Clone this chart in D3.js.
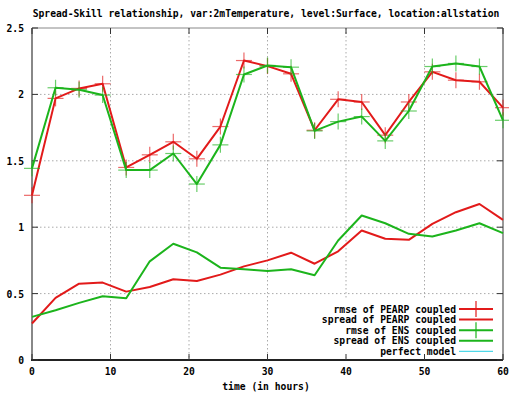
<!DOCTYPE html>
<html>
<head>
<meta charset="utf-8">
<script src="https://cdn.jsdelivr.net/npm/d3@7"></script>
<style>
  html, body { margin: 0; padding: 0; background: #fff; }
  svg text { font-family: "DejaVu Sans Mono", monospace; font-weight: bold; font-size: 9.7px; fill: #000; }
</style>
</head>
<body>
<svg id="chart" width="509" height="393"></svg>
<script>
// Forecast lead times (hours)
const hours = [0, 3, 6, 9, 12, 15, 18, 21, 24, 27, 30, 33, 36, 39, 42, 45, 48, 51, 54, 57, 60];

const rmsePEARP = [1.24, 1.97, 2.045, 2.08, 1.45, 1.545, 1.643, 1.515, 1.758, 2.255, 2.213, 2.155, 1.73, 1.963, 1.943, 1.693, 1.943, 2.17, 2.107, 2.095, 1.90];
const spreadPEARP = [0.275, 0.468, 0.575, 0.583, 0.515, 0.55, 0.608, 0.595, 0.643, 0.705, 0.75, 0.808, 0.725, 0.818, 0.975, 0.913, 0.905, 1.025, 1.113, 1.175, 1.055];
const rmseENS = [1.443, 2.05, 2.035, 1.995, 1.43, 1.43, 1.555, 1.325, 1.62, 2.15, 2.218, 2.205, 1.725, 1.795, 1.833, 1.65, 1.875, 2.21, 2.233, 2.21, 1.805];
const spreadENS = [0.325, 0.375, 0.43, 0.48, 0.465, 0.743, 0.875, 0.81, 0.695, 0.683, 0.67, 0.683, 0.638, 0.9, 1.088, 1.03, 0.95, 0.93, 0.975, 1.03, 0.955];

const xTicks = [0, 10, 20, 30, 40, 50, 60];
const yTicks = [0, 0.5, 1, 1.5, 2, 2.5];
const xTickLabels = ["0", "10", "20", "30", "40", "50", "60"];
const yTickLabels = ["0", "0.5", "1", "1.5", "2", "2.5"];

const titleText = "Spread-Skill relationship, var:2mTemperature, level:Surface, location:allstation";
const xLabel = "time (in hours)";

const series = [
  { name: "rmse of PEARP coupled",   values: rmsePEARP,   color: "#e21a1a", marks: true },
  { name: "spread of PEARP coupled", values: spreadPEARP, color: "#e21a1a", marks: false },
  { name: "rmse of ENS coupled",     values: rmseENS,     color: "#1cb41c", marks: true },
  { name: "spread of ENS coupled",   values: spreadENS,   color: "#1cb41c", marks: false },
  { name: "perfect model",           values: null,        color: "#4fd8e8", marks: false }
];

const svg = d3.select("#chart");
const L = 32, R = 503, T = 28, B = 360;

const x = d3.scaleLinear().domain([0, 60]).range([L, R]);
const y = d3.scaleLinear().domain([0, 2.5]).range([B, T]);

// Grid
const grid = svg.append("g");
grid.selectAll("line.gx").data(xTicks.slice(1, -1)).enter().append("line")
  .attr("x1", d => x(d)).attr("x2", d => x(d)).attr("y1", T).attr("y2", B)
  .attr("stroke", "#aaa").attr("stroke-width", 1).attr("stroke-dasharray", "1.5,2.5");
grid.selectAll("line.gy").data(yTicks.slice(1, -1)).enter().append("line")
  .attr("x1", L).attr("x2", R).attr("y1", d => y(d)).attr("y2", d => y(d))
  .attr("stroke", "#aaa").attr("stroke-width", 1).attr("stroke-dasharray", "1.5,2.5");

// Legend area clears the grid behind it
svg.append("rect").attr("x", 318).attr("y", 299).attr("width", 183).attr("height", 58).attr("fill", "#fff");

// Frame
svg.append("line").attr("x1", L).attr("x2", R).attr("y1", T).attr("y2", T).attr("stroke", "#888").attr("stroke-width", 1);
svg.append("line").attr("x1", R).attr("x2", R).attr("y1", T).attr("y2", B).attr("stroke", "#777").attr("stroke-width", 1.5);
svg.append("line").attr("x1", L).attr("x2", L).attr("y1", T).attr("y2", B).attr("stroke", "#888").attr("stroke-width", 2);
svg.append("line").attr("x1", L - 1).attr("x2", R).attr("y1", B).attr("y2", B).attr("stroke", "#222").attr("stroke-width", 2);

// Inward ticks on all sides
const tk = svg.append("g").attr("stroke", "#333").attr("stroke-width", 1);
xTicks.forEach(t => {
  tk.append("line").attr("x1", x(t)).attr("x2", x(t)).attr("y1", B).attr("y2", B - 6);
  tk.append("line").attr("x1", x(t)).attr("x2", x(t)).attr("y1", T).attr("y2", T + 6);
});
yTicks.forEach(t => {
  tk.append("line").attr("x1", L).attr("x2", L + 6).attr("y1", y(t)).attr("y2", y(t));
  tk.append("line").attr("x1", R).attr("x2", R - 6).attr("y1", y(t)).attr("y2", y(t));
});

// Tick labels
svg.append("g").selectAll("text").data(xTicks).enter().append("text")
  .attr("x", d => x(d)).attr("y", B + 15).attr("text-anchor", "middle")
  .text((d, i) => xTickLabels[i]);
svg.append("g").selectAll("text").data(yTicks).enter().append("text")
  .attr("x", L - 8).attr("y", d => y(d) + 4).attr("text-anchor", "end")
  .text((d, i) => yTickLabels[i]);

// Title and axis label
svg.append("text").attr("x", 266).attr("y", 17).attr("text-anchor", "middle").text(titleText);
svg.append("text").attr("x", 266).attr("y", 390).attr("text-anchor", "middle").text(xLabel);

// Series
const line = d3.line().x((d, i) => x(hours[i])).y(d => y(d));
const plot = svg.append("g");
series.forEach(s => {
  if (!s.values) return;
  plot.append("path").datum(s.values).attr("d", line)
    .attr("fill", "none").attr("stroke", s.color).attr("stroke-width", 2).attr("stroke-linejoin", "round");
  if (s.marks) {
    const g = plot.append("g").attr("stroke", s.color).attr("stroke-width", 1.2).attr("opacity", 0.65);
    s.values.forEach((v, i) => {
      const cx = x(hours[i]), cy = y(v);
      g.append("line").attr("x1", cx - 8).attr("x2", cx + 8).attr("y1", cy).attr("y2", cy);
      g.append("line").attr("x1", cx).attr("x2", cx).attr("y1", cy - 8).attr("y2", cy + 8);
    });
  }
});

// Legend
const leg = svg.append("g");
series.forEach((s, i) => {
  const ly = 309 + i * 10.6;
  leg.append("text").attr("x", 456).attr("y", ly + 3.5).attr("text-anchor", "end").text(s.name);
  leg.append("line").attr("x1", 459).attr("x2", 493).attr("y1", ly).attr("y2", ly)
    .attr("stroke", s.color).attr("stroke-width", s.values ? 2 : 1.2);
  if (s.marks) {
    leg.append("line").attr("x1", 476).attr("x2", 476).attr("y1", ly - 8).attr("y2", ly + 8)
      .attr("stroke", s.color).attr("stroke-width", 1.2);
  }
});
</script>
</body>
</html>
